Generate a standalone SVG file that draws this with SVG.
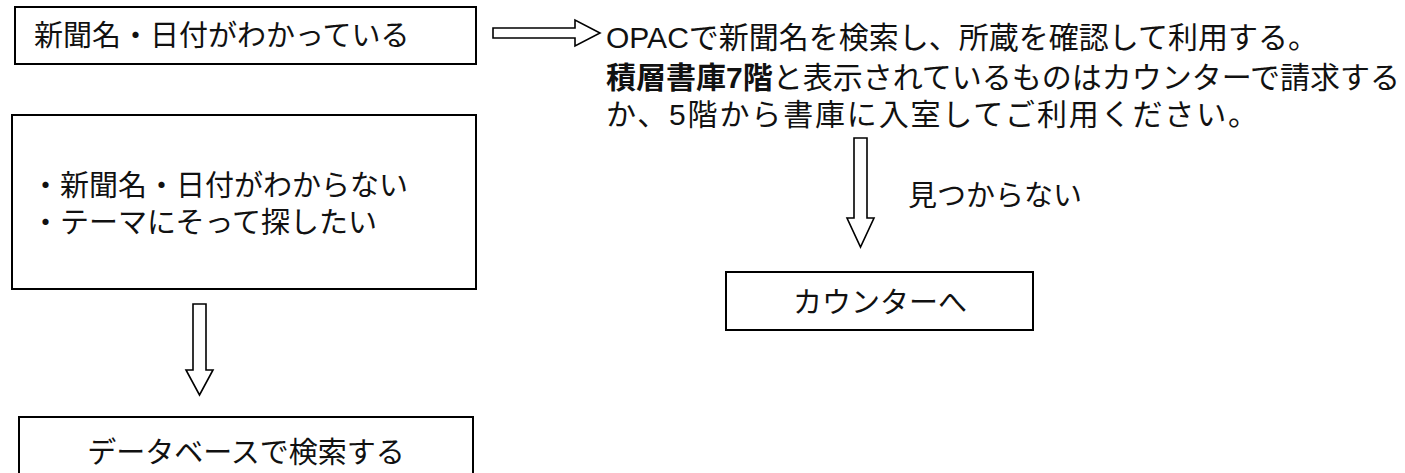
<svg xmlns="http://www.w3.org/2000/svg" width="1405" height="473" viewBox="0 0 1405 473">
<style>
.box{fill:#fff;stroke:#000;stroke-width:2}
.arr{fill:#fff;stroke:#000;stroke-width:1.6;stroke-linejoin:miter}
text{font-family:"Liberation Sans","Noto Sans CJK JP",sans-serif;font-size:29px;fill:#111}
.r{font-size:30px}
.b{font-weight:bold}
</style>
<rect width="1405" height="473" fill="#fff"/>
<g id="connectors">
<polygon class="arr" points="493,28 575,28 575,20 600,33 575,46 575,38 493,38"/>
<polygon class="arr" points="193,304 206,304 206,370 213,370 199.5,395 186,370 193,370"/>
<polygon class="arr" points="854,138 867,138 867,218 874,218 860.5,247 847,218 854,218"/>
<text x="908" y="206">見つからない</text>
</g>
<g id="node-known">
<rect class="box" x="15" y="7" width="461" height="57"/>
<text x="34" y="46">新聞名・日付がわかっている</text>
</g>
<g id="node-opac">
<text class="r" x="606" y="48">OPACで新聞名を検索し、所蔵を確認して利用する。</text>
<text class="r" x="606" y="88"><tspan class="b">積層書庫7階</tspan>と表示されているものはカウンターで請求する</text>
<text class="r" x="606" y="125" textLength="652" lengthAdjust="spacing">か、5階から書庫に入室してご利用ください。</text>
</g>
<g id="node-unknown">
<rect class="box" x="12" y="115" width="464" height="174"/>
<text x="31" y="196">・新聞名・日付がわからない</text>
<text x="31" y="233">・テーマにそって探したい</text>
</g>
<g id="node-counter">
<rect class="box" x="726" y="272" width="307" height="58"/>
<text x="880" y="313" text-anchor="middle">カウンターへ</text>
</g>
<g id="node-database">
<rect class="box" x="19" y="417" width="454" height="70"/>
<text x="246" y="463" text-anchor="middle">データベースで検索する</text>
</g>
</svg>
